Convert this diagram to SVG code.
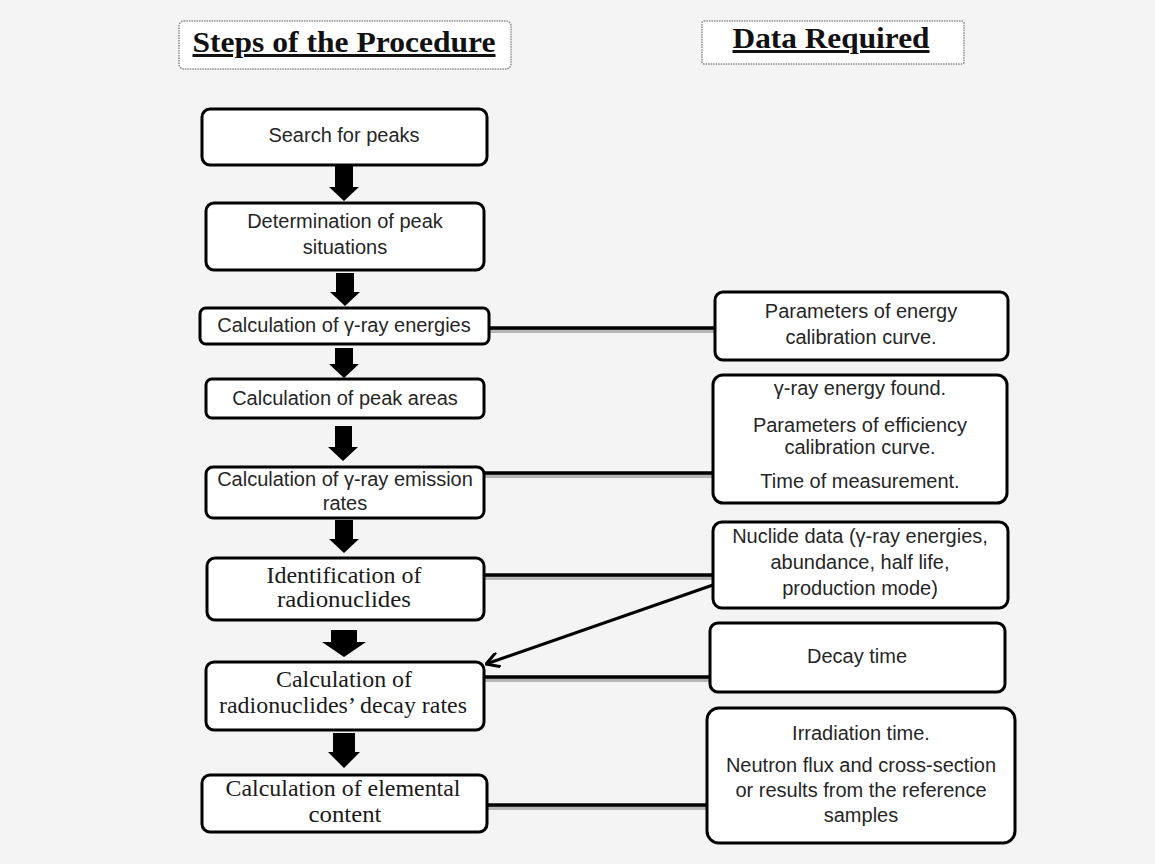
<svg xmlns="http://www.w3.org/2000/svg" width="1155" height="864" viewBox="0 0 1155 864">
  <style>
    .bg { fill: #f4f4f4; }
    .head-box { fill: #ffffff; stroke: #8a8a8a; stroke-width: 1.5; stroke-dasharray: 1.5 1; }
    .box { fill: #ffffff; stroke: #000000; stroke-width: 3; }
    .head { font-family: "Liberation Serif", "Times New Roman", serif; font-weight: bold; font-size: 30px; fill: #111; text-anchor: middle; text-decoration: underline; }
    .sans { font-family: "Liberation Sans", Arial, sans-serif; font-size: 20px; fill: #262626; text-anchor: middle; }
    .serif { font-family: "Liberation Serif", "Times New Roman", serif; font-size: 23px; fill: #1a1a1a; text-anchor: middle; }
    .block { fill: #000000; }
    .link { stroke: #000000; stroke-width: 3.5; fill: none; }
    .shadow { stroke: #b5b5b5; stroke-width: 4; fill: none; }
    .ref { stroke: #000000; stroke-width: 3; fill: none; }
  </style>
  <defs>
    <marker id="open-arrow" markerUnits="userSpaceOnUse" viewBox="0 0 16 16" markerWidth="16" markerHeight="16" refX="15" refY="8" orient="auto">
      <path d="M2,0.5 L15,8 L2,15.5" fill="none" stroke="#000" stroke-width="3" stroke-linejoin="miter"/>
    </marker>
  </defs>

  <rect class="bg" x="0" y="0" width="1155" height="864"/>

  <!-- column headings -->
  <g id="heading-steps">
    <rect class="head-box" x="179" y="21" width="332" height="48" rx="5"/>
    <text class="head" x="344" y="52" textLength="303" lengthAdjust="spacingAndGlyphs">Steps of the Procedure</text>
  </g>
  <g id="heading-data">
    <rect class="head-box" x="702" y="21" width="262" height="43" rx="2"/>
    <text class="head" x="831" y="48" textLength="197" lengthAdjust="spacingAndGlyphs">Data Required</text>
  </g>

  <!-- connectors: shadows first, then lines and block arrows -->
  <g id="connectors">
    <line class="shadow" x1="489" y1="331" x2="715" y2="331"/>
    <line class="shadow" x1="484" y1="476" x2="713" y2="476"/>
    <line class="shadow" x1="484" y1="578" x2="713" y2="578"/>
    <line class="shadow" x1="484" y1="680" x2="710" y2="680"/>
    <line class="shadow" x1="487" y1="808" x2="707" y2="808"/>

    <line class="link" x1="489" y1="328" x2="715" y2="328"/>
    <line class="link" x1="484" y1="473" x2="713" y2="473"/>
    <line class="link" x1="484" y1="575" x2="713" y2="575"/>
    <line class="link" x1="484" y1="677" x2="710" y2="677"/>
    <line class="link" x1="487" y1="805" x2="707" y2="805"/>

    <line class="ref" x1="713" y1="585" x2="486" y2="664" marker-end="url(#open-arrow)"/>

    <path class="block" d="M335,165 H353 V187 H359 L344,201 L329,187 H335 Z"/>
    <path class="block" d="M336,273 H354 V292 H360 L345,306 L330,292 H336 Z"/>
    <path class="block" d="M335,348 H353 V364 H359 L344,378 L329,364 H335 Z"/>
    <path class="block" d="M335,426 H352 V447 H358 L343,461 L328,447 H335 Z"/>
    <path class="block" d="M335,520 H353 V539 H359 L344,553 L329,539 H335 Z"/>
    <path class="block" d="M331,630 H357 V642 H366 L344,657 L322,642 H331 Z"/>
    <path class="block" d="M333,733 H355 V752 H360 L344,768 L328,752 H333 Z"/>
  </g>

  <!-- procedure steps -->
  <g id="step-search">
    <rect class="box" x="202" y="109" width="285" height="56" rx="8"/>
    <text class="sans" x="344" y="142">Search for peaks</text>
  </g>
  <g id="step-determination">
    <rect class="box" x="206" y="203" width="278" height="67" rx="8"/>
    <text class="sans" x="345" y="228">Determination of peak</text>
    <text class="sans" x="345" y="254">situations</text>
  </g>
  <g id="step-energies">
    <rect class="box" x="200" y="308" width="289" height="36" rx="6"/>
    <text class="sans" x="344" y="332">Calculation of γ-ray energies</text>
  </g>
  <g id="step-areas">
    <rect class="box" x="206" y="379" width="278" height="39" rx="6"/>
    <text class="sans" x="345" y="405">Calculation of peak areas</text>
  </g>
  <g id="step-emission">
    <rect class="box" x="206" y="467" width="278" height="51" rx="7"/>
    <text class="sans" x="345" y="486">Calculation of γ-ray emission</text>
    <text class="sans" x="345" y="510">rates</text>
  </g>
  <g id="step-identification">
    <rect class="box" x="207" y="558" width="277" height="62" rx="8"/>
    <text class="serif" x="344" y="583" textLength="155" lengthAdjust="spacingAndGlyphs">Identification of</text>
    <text class="serif" x="344" y="607" textLength="134" lengthAdjust="spacingAndGlyphs">radionuclides</text>
  </g>
  <g id="step-decay-rates">
    <rect class="box" x="206" y="662" width="278" height="68" rx="8"/>
    <text class="serif" x="344" y="687" textLength="136" lengthAdjust="spacingAndGlyphs">Calculation of</text>
    <text class="serif" x="343" y="713" textLength="248" lengthAdjust="spacingAndGlyphs">radionuclides’ decay rates</text>
  </g>
  <g id="step-elemental">
    <rect class="box" x="202" y="775" width="285" height="57" rx="8"/>
    <text class="serif" x="343" y="796" textLength="235" lengthAdjust="spacingAndGlyphs">Calculation of elemental</text>
    <text class="serif" x="345" y="822" textLength="73" lengthAdjust="spacingAndGlyphs">content</text>
  </g>

  <!-- required data -->
  <g id="data-energy-calibration">
    <rect class="box" x="715" y="292" width="293" height="68" rx="8"/>
    <text class="sans" x="861" y="318">Parameters of energy</text>
    <text class="sans" x="861" y="344">calibration curve.</text>
  </g>
  <g id="data-efficiency">
    <rect class="box" x="713" y="375" width="294" height="128" rx="10"/>
    <text class="sans" x="860" y="395">γ-ray energy found.</text>
    <text class="sans" x="860" y="432">Parameters of efficiency</text>
    <text class="sans" x="860" y="454">calibration curve.</text>
    <text class="sans" x="860" y="488">Time of measurement.</text>
  </g>
  <g id="data-nuclide">
    <rect class="box" x="713" y="522" width="295" height="86" rx="9"/>
    <text class="sans" x="860" y="543">Nuclide data (γ-ray energies,</text>
    <text class="sans" x="860" y="569">abundance, half life,</text>
    <text class="sans" x="860" y="595">production mode)</text>
  </g>
  <g id="data-decay-time">
    <rect class="box" x="710" y="623" width="295" height="69" rx="8"/>
    <text class="sans" x="857" y="663">Decay time</text>
  </g>
  <g id="data-irradiation">
    <rect class="box" x="707" y="708" width="308" height="135" rx="12"/>
    <text class="sans" x="861" y="740">Irradiation time.</text>
    <text class="sans" x="861" y="772">Neutron flux and cross-section</text>
    <text class="sans" x="861" y="797">or results from the reference</text>
    <text class="sans" x="861" y="822">samples</text>
  </g>
</svg>
